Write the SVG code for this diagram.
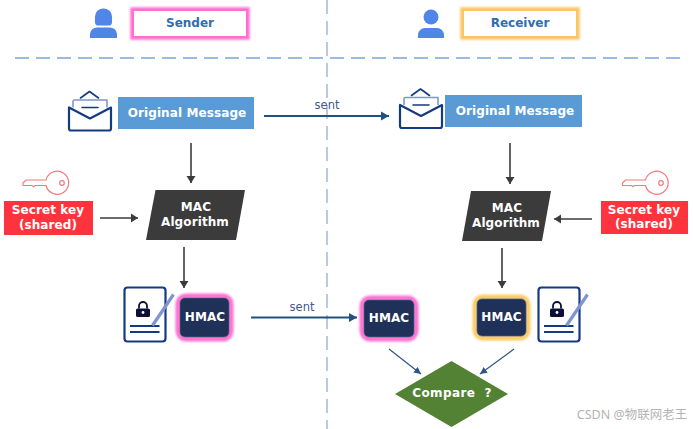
<svg xmlns="http://www.w3.org/2000/svg" width="693" height="429" viewBox="0 0 693 429">
<style>
text{font-family:"DejaVu Sans",Verdana,sans-serif;font-weight:700;text-anchor:middle;fill:#fff}
.hd{fill:#2e6db4;font-size:12px}
.m{font-size:12px;letter-spacing:.1px}
.sent{font-weight:400;font-size:11.500px;fill:#44598a}
.dash{stroke:#7da5d6;stroke-width:1.500;fill:none;stroke-dasharray:14 7}
.dv{stroke:#a9bdd6;stroke-width:1.600;fill:none;stroke-dasharray:14 7}
.blue{fill:#5b9bd5}
.red{fill:#ff333d}
.alg{fill:#3b3b3b}
.hm{fill:#1f3158;stroke:#4a5a80;stroke-width:.8}
.ic{fill:none;stroke:#143a82;stroke-width:2.200;stroke-linejoin:round;stroke-linecap:round}
.ic2{fill:none;stroke:#7f95d1;stroke-width:1.600;stroke-linejoin:round}
.key{fill:#fff;stroke:#f47a7d;stroke-width:1.200}
.dk{stroke:#3b3b3b;stroke-width:1.600;fill:none;marker-end:url(#ad)}
.nv{stroke:#23507f;stroke-width:2.200;fill:none;marker-end:url(#an)}
.nv2{stroke:#2b5687;stroke-width:1.200;fill:none;marker-end:url(#an2)}
</style>
<defs>
<marker id="ad" markerUnits="userSpaceOnUse" markerWidth="8" markerHeight="10" refX="7" refY="5" orient="auto"><path d="M0 0.500L7 5L0 9.500z" fill="#3b3b3b"/></marker>
<marker id="an" markerUnits="userSpaceOnUse" markerWidth="9" markerHeight="10" refX="8" refY="5" orient="auto"><path d="M0 0.500L8 5L0 9.500z" fill="#23507f"/></marker>
<marker id="an2" markerUnits="userSpaceOnUse" markerWidth="8" markerHeight="8" refX="7" refY="4" orient="auto"><path d="M0 0.500L7 4L0 7.500z" fill="#2b5687"/></marker>
<filter id="gl" x="-30%" y="-30%" width="160%" height="160%"><feGaussianBlur stdDeviation="1"/></filter>
<g id="env"><path class="ic2" d="M5 17V11a1.500 1.500 0 0 1 1.500-1.500H39V17"/><path class="ic" d="M1 17V38a2 2 0 0 0 2 2H41a2 2 0 0 0 2-2V17L22 28z"/><path class="ic" d="M12.500 7.500L21.500 1L30.500 7.500M14 17H30" style="stroke-width:1.600"/></g>
<g id="doc"><rect class="ic" x="1" y="1" width="41" height="54" rx="3"/><path class="ic" d="M6.500 39.500H36M6.500 45.500H36" style="stroke-linecap:butt;stroke-width:1.800"/><path d="M29 39L50 8" stroke="#7f95d1" stroke-width="3.200" fill="none"/><path d="M12.500 23.500a1.500 1.500 0 0 1 1.500-1.500H25a1.500 1.500 0 0 1 1.500 1.500v5.500a1.500 1.500 0 0 1-1.500 1.500H14a1.500 1.500 0 0 1-1.500-1.500z" fill="#0c1038"/><path d="M15.500 22v-2.500a4 4 0 0 1 8 0V22" fill="none" stroke="#0c1038" stroke-width="1.800"/><circle cx="19.500" cy="26" r="1.400" fill="#fff"/></g>
<path id="keyp" class="key" d="M0 5.500L3 2.500H23A11.500 11.500 0 1 1 23 8H12L10.500 9.200L9 8H0z"/>
</defs>

<g id="dividers">
<path class="dv" d="M327 0V429"/>
<path class="dash" d="M15 58H683"/>
</g>

<g id="connectors">
<path class="nv" d="M264 116H389"/>
<text class="sent" x="327" y="109">sent</text>
<path class="dk" d="M191 143V183"/>
<path class="dk" d="M510 143V184"/>
<path class="dk" d="M100 218H138"/>
<path class="dk" d="M592 219H554"/>
<path class="dk" d="M184 247V288"/>
<path class="dk" d="M502 248V288"/>
<path class="nv" d="M251 317.500H357"/>
<text class="sent" x="302" y="311">sent</text>
<path class="nv2" d="M389 349L421 374"/>
<path class="nv2" d="M514 349L480 374"/>
</g>

<g id="sender-icon" fill="#4f86e8">
<path d="M95 23V16.500a8.500 8 0 0 1 17 0V23a4 4 0 0 1-2 2.500H97a4 4 0 0 1-2-2.500z"/>
<path d="M90 38V34a7 7 0 0 1 7-6.500H110a7 7 0 0 1 7 6.500V38z"/>
</g>
<g id="sender">
<rect x="132" y="9" width="116" height="29" fill="none" stroke="#ff6fd2" stroke-width="3.500" filter="url(#gl)"/>
<rect x="133" y="10" width="114" height="27" fill="#fff" stroke="#ff6fd2" stroke-width="2"/>
<text class="hd" x="190" y="27">Sender</text>
</g>
<g id="receiver-icon" fill="#4f86e8">
<circle cx="431" cy="17" r="7.500"/>
<path d="M418 38V34a7 7 0 0 1 7-6H437a7 7 0 0 1 7 6V38z"/>
</g>
<g id="receiver">
<rect x="462" y="9" width="116" height="29" fill="none" stroke="#f9c566" stroke-width="3.500" filter="url(#gl)"/>
<rect x="463" y="10" width="114" height="27" fill="#fff" stroke="#f9c566" stroke-width="2"/>
<text class="hd" x="520" y="27">Receiver</text>
</g>

<g id="msg-sender">
<use href="#env" x="68" y="90.500"/>
<rect class="blue" x="118" y="97" width="136" height="32"/>
<text class="m" x="187" y="117">Original Message</text>
</g>
<g id="msg-receiver">
<use href="#env" x="399" y="88"/>
<rect class="blue" x="445" y="95" width="137" height="32"/>
<text class="m" x="515" y="115">Original Message</text>
</g>

<g id="key-sender">
<use href="#keyp" x="23" y="177.500"/><circle class="key" cx="62" cy="183" r="2.300"/>
<rect class="red" x="4" y="201" width="89" height="34"/>
<text class="m" x="48" y="214">Secret key</text>
<text class="m" x="48" y="229">(shared)</text>
</g>
<g id="key-receiver">
<use href="#keyp" x="622.500" y="177.500"/><circle class="key" cx="661" cy="183" r="2.300"/>
<rect class="red" x="601" y="201" width="87" height="33"/>
<text class="m" x="644" y="214">Secret key</text>
<text class="m" x="644" y="228">(shared)</text>
</g>

<g id="mac-sender">
<path class="alg" d="M155.500 190H245L236 240H146z"/>
<text class="m" x="196" y="211">MAC</text>
<text class="m" x="195" y="226">Algorithm</text>
</g>
<g id="mac-receiver">
<path class="alg" d="M471 191H551L542 241H462z"/>
<text class="m" x="507" y="212">MAC</text>
<text class="m" x="506" y="227">Algorithm</text>
</g>

<g id="hmac-sender">
<use href="#doc" x="123.500" y="286.500"/>
<rect x="178" y="296" width="53" height="43" rx="8" fill="none" stroke="#ff6fd2" stroke-width="5" filter="url(#gl)"/>
<rect class="hm" x="180" y="298" width="49" height="39" rx="5"/>
<text class="m" x="205" y="321">HMAC</text>
</g>
<g id="hmac-mid">
<rect x="362" y="298" width="54" height="41" rx="8" fill="none" stroke="#ff6fd2" stroke-width="5" filter="url(#gl)"/>
<rect class="hm" x="364" y="300" width="50" height="37" rx="5"/>
<text class="m" x="389" y="322">HMAC</text>
</g>
<g id="hmac-receiver">
<rect x="475" y="297" width="53" height="41" rx="8" fill="none" stroke="#fbcb63" stroke-width="5" filter="url(#gl)"/>
<rect class="hm" x="477" y="299" width="49" height="37" rx="5"/>
<text class="m" x="501.500" y="321">HMAC</text>
<use href="#doc" x="537.500" y="286.500"/>
</g>

<g id="compare">
<path d="M451.500 361L508 394L451.500 427L395 394z" fill="#548235"/>
<text class="m" x="452" y="397" style="letter-spacing:.4px">Compare&#160;&#160;?</text>
</g>
<text x="632" y="419" style="font-family:'Noto Sans','Noto Sans CJK SC',sans-serif;font-weight:400;font-size:12.500px;fill:#b4b4b4">CSDN @物联网老王</text>
</svg>
